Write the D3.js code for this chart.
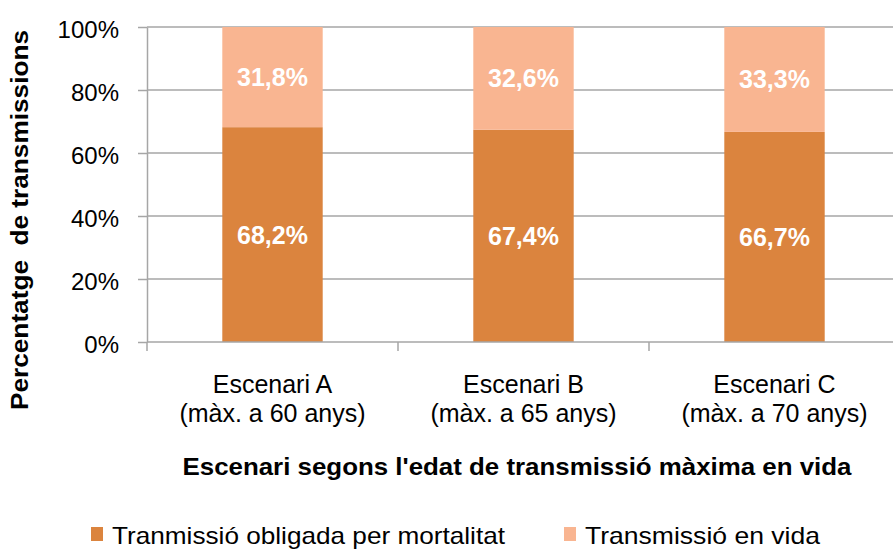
<!DOCTYPE html>
<html>
<head>
<meta charset="utf-8">
<script src="https://cdn.jsdelivr.net/npm/d3@7"></script>
<style>
  body { margin: 0; background: #fff; }
  svg { display: block; font-family: "Liberation Sans", Arial, sans-serif; }
</style>
</head>
<body>
<svg id="chart" width="893" height="550"></svg>
<script>
// data
const scenarios = ["Escenari A", "Escenari B", "Escenari C"];
const scenarioNotes = ["(màx. a 60 anys)", "(màx. a 65 anys)", "(màx. a 70 anys)"];
const seriesNames = ["Tranmissió obligada per mortalitat", "Transmissió en vida"];
const mortalitat = [68.2, 67.4, 66.7];
const enVida = [31.8, 32.6, 33.3];
const yTicks = [0, 20, 40, 60, 80, 100];

const width = 893, height = 550;
const svg = d3.select("#chart");
const margin = { top: 27, left: 147, bottom: 342 };
const plotW = 753;

const colors = ["#DB843E", "#F9B591"];

const rows = scenarios.map((s, i) => ({ name: s, note: scenarioNotes[i], v0: mortalitat[i], v1: enVida[i] }));
const stacked = d3.stack().keys(["v0", "v1"])(rows);

const x = d3.scaleBand()
  .domain(scenarios)
  .range([margin.left, margin.left + plotW])
  .paddingInner(0.6)
  .paddingOuter(0.3);

const y = d3.scaleLinear()
  .domain([0, 100])
  .range([margin.bottom, margin.top]);

// gridlines
svg.append("g")
  .selectAll("line")
  .data(yTicks.filter(d => d > 0))
  .join("line")
    .attr("x1", margin.left)
    .attr("x2", margin.left + plotW)
    .attr("y1", d => y(d))
    .attr("y2", d => y(d))
    .attr("stroke", "#a6a6a6")
    .attr("stroke-width", 1.5);

// bars
svg.append("g")
  .selectAll("g")
  .data(stacked)
  .join("g")
    .attr("fill", (d, i) => colors[i])
  .selectAll("rect")
  .data(d => d)
  .join("rect")
    .attr("x", d => x(d.data.name))
    .attr("width", x.bandwidth())
    .attr("y", d => y(d[1]))
    .attr("height", d => y(d[0]) - y(d[1]));

// data labels
const fmt = v => d3.format(".1f")(v).replace(".", ",") + "%";
svg.append("g")
  .selectAll("g")
  .data(stacked)
  .join("g")
  .selectAll("text")
  .data(d => d.map(p => ({ p, key: d.key })))
  .join("text")
    .attr("x", d => x(d.p.data.name) + x.bandwidth() / 2)
    .attr("y", d => y((d.p[0] + d.p[1]) / 2) + 9)
    .attr("text-anchor", "middle")
    .attr("fill", "#fff")
    .attr("font-weight", "bold")
    .attr("font-size", "25px")
    .text(d => fmt(d.p.data[d.key]));

// y axis
const yAxis = svg.append("g")
  .attr("transform", `translate(${margin.left},0)`)
  .call(d3.axisLeft(y).tickValues(yTicks).tickFormat(d => d + "%").tickSize(9).tickSizeOuter(0));
yAxis.select(".domain").attr("stroke", "#a6a6a6").attr("stroke-width", 1.5);
yAxis.selectAll(".tick line").attr("stroke", "#a6a6a6").attr("stroke-width", 1.5);
yAxis.selectAll(".tick text")
  .attr("x", -28)
  .attr("dy", "0.45em")
  .attr("font-size", "24px")
  .attr("font-family", "Liberation Sans, Arial, sans-serif")
  .attr("fill", "#000");

// x axis
const xAxis = svg.append("g")
  .attr("transform", `translate(0,${margin.bottom})`);
xAxis.append("line")
  .attr("x1", margin.left).attr("x2", margin.left + plotW)
  .attr("stroke", "#a6a6a6").attr("stroke-width", 1.5);
const step = plotW / scenarios.length;
xAxis.selectAll(".cat-tick")
  .data(d3.range(scenarios.length + 1))
  .join("line")
    .attr("class", "cat-tick")
    .attr("x1", i => margin.left + i * step)
    .attr("x2", i => margin.left + i * step)
    .attr("y1", 0).attr("y2", 9)
    .attr("stroke", "#a6a6a6").attr("stroke-width", 1.5);

const catLabels = xAxis.selectAll(".cat")
  .data(rows)
  .join("text")
    .attr("class", "cat")
    .attr("text-anchor", "middle")
    .attr("font-size", "25px")
    .attr("fill", "#000");
catLabels.append("tspan")
  .attr("x", d => x(d.name) + x.bandwidth() / 2)
  .attr("y", 51)
  .text(d => d.name);
catLabels.append("tspan")
  .attr("x", d => x(d.name) + x.bandwidth() / 2)
  .attr("y", 80)
  .text(d => d.note);

// axis titles
svg.append("text")
  .attr("x", 517)
  .attr("y", 475)
  .attr("text-anchor", "middle")
  .attr("font-size", "24px")
  .attr("font-weight", "bold")
  .attr("textLength", 669)
  .attr("lengthAdjust", "spacingAndGlyphs")
  .text("Escenari segons l'edat de transmissió màxima en vida");

svg.append("text")
  .attr("transform", "rotate(-90)")
  .attr("x", -220)
  .attr("y", 28)
  .attr("text-anchor", "middle")
  .attr("font-size", "24px")
  .attr("font-weight", "bold")
  .attr("textLength", 380)
  .attr("lengthAdjust", "spacingAndGlyphs")
  .attr("xml:space", "preserve")
  .text("Percentatge  de transmissions");

// legend
const legendX = [91, 564];
const legendLen = [393, 235];
const legend = svg.append("g");
seriesNames.forEach((name, i) => {
  legend.append("rect")
    .attr("x", legendX[i])
    .attr("y", 527)
    .attr("width", 12)
    .attr("height", 14)
    .attr("fill", colors[i]);
  legend.append("text")
    .attr("x", legendX[i] + 21)
    .attr("y", 544)
    .attr("font-size", "24px")
    .attr("textLength", legendLen[i])
    .attr("lengthAdjust", "spacingAndGlyphs")
    .attr("fill", "#000")
    .text(name);
});
</script>
</body>
</html>
